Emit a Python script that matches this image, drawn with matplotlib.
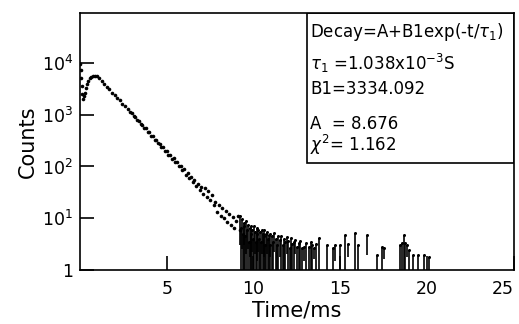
import matplotlib.pyplot as plt
from matplotlib.patches import Rectangle

# early part: excitation spike and rise to the maximum
rise_t = [0.02, 0.05, 0.08, 0.11, 0.14, 0.18, 0.22, 0.27, 0.33, 0.40,
          0.48, 0.57, 0.66, 0.76, 0.86, 0.96]
rise_counts = [9600, 7400, 5200, 3600, 2500, 2000, 2300, 2700, 3300, 4000,
               4600, 5100, 5400, 5650, 5750, 5700]

# exponential decay part
decay_t = [1.10, 1.25, 1.40, 1.55, 1.70, 1.85, 2.00, 2.15, 2.30, 2.45,
           2.60, 2.75, 2.90, 3.0, 3.1, 3.2, 3.3, 3.4, 3.5, 3.6,
           3.7, 3.8, 3.9, 4.0, 4.1, 4.2, 4.3, 4.4, 4.5, 4.6,
           4.7, 4.8, 4.9, 5.0, 5.1, 5.2, 5.3, 5.4, 5.5, 5.6,
           5.7, 5.8, 5.9, 6.0, 6.1, 6.2, 6.3, 6.4, 6.5, 6.6,
           6.7, 6.8, 6.9, 7.0, 7.1, 7.2, 7.3, 7.4, 7.5, 7.6,
           7.7, 7.8, 7.9, 8.0, 8.1, 8.2, 8.3, 8.4, 8.5, 8.6,
           8.7, 8.8, 8.9, 9.0, 9.1, 9.2]
decay_counts = [5250, 4600, 4000, 3500, 3150, 2700, 2450, 2100, 1900, 1620,
                1480, 1300, 1110, 1060, 930, 900, 780, 760, 660, 640,
                560, 545, 470, 460, 395, 390, 330, 330, 280, 275,
                240, 235, 200, 198, 168, 170, 142, 145, 120, 122,
                100, 104, 85, 88, 70, 76, 60, 64, 50, 55,
                42, 46, 35, 40, 30, 38, 26, 33, 22, 28,
                18, 21, 13, 18, 11, 16, 10, 14, 8.5, 12,
                7.5, 10.5, 6.5, 9, 11, 6]

# noisy tail: each channel drawn as a vertical stroke from low to high count
tail_t = [9.22, 9.28, 9.33, 9.38, 9.43, 9.48, 9.53, 9.58, 9.63, 9.68,
          9.73, 9.78, 9.83, 9.88, 9.93, 9.98, 10.03, 10.08, 10.13, 10.18,
          10.23, 10.28, 10.33, 10.38, 10.43, 10.48, 10.53, 10.58, 10.63, 10.68,
          10.73, 10.78, 10.83, 10.88, 10.93, 10.98, 11.05, 11.12, 11.2, 11.28,
          11.36, 11.44, 11.52, 11.6, 11.68, 11.76, 11.84, 11.92, 12.0, 12.08,
          12.16, 12.24, 12.32, 12.4, 12.5, 12.6, 12.7, 12.8, 12.9, 13.05,
          13.2, 13.3, 13.4, 13.5, 13.6, 13.75, 14.25, 14.6, 14.7, 15.0,
          15.3, 15.45, 15.86, 16.0, 16.55, 17.1, 17.4, 17.5, 18.45, 18.55,
          18.65, 18.75, 18.85, 18.95, 19.2, 19.5, 19.8, 20.1]
tail_hi = [11, 6.5, 9.5, 5, 8, 7, 4.5, 9, 6, 7.5,
           3.5, 6.5, 7, 5, 6, 4, 7, 5.5, 3.5, 6.5,
           5, 6, 4, 5.5, 3.5, 6, 5, 4.5, 6, 3,
           5, 5.5, 4, 4.8, 3, 5, 4.5, 3.5, 5.2, 4,
           3, 4.5, 3.8, 4.6, 3, 4, 3.5, 4.3, 3.6, 2.6,
           4.2, 3.2, 3.4, 3.8, 2.8, 3.3, 3.6, 2.6, 2.8, 3.3,
           2.8, 3.4, 3.0, 2.7, 3.2, 4.2, 3.0, 2.6, 3.0, 3.0,
           4.7, 3.2, 5.2, 3.0, 4.7, 1.9, 2.8, 2.6, 3.0, 3.3,
           4.7, 3.3, 3.0, 2.4, 1.9, 1.9, 1.9, 1.8]
tail_lo = [3, 1, 2.5, 1, 3, 1, 1, 2, 1, 2.5,
           1, 1.8, 1, 1, 2.2, 1, 1, 2, 1, 1.5,
           1, 2.2, 1, 1, 1, 2, 1, 1, 1.8, 1,
           1, 2, 1, 1, 1, 1.8, 1, 1, 2.2, 1,
           1, 1, 1.8, 1, 1, 1, 1, 2, 1, 1,
           1, 1, 1, 2, 1, 1, 1, 1, 1.5, 1,
           1, 1, 1, 1.6, 1, 1, 1, 1, 1.5, 1,
           1, 1.8, 1, 1, 1.9, 1, 1, 1.6, 1, 1,
           1, 1, 1.8, 1, 1, 1, 1, 1]

x_ticks = [5, 10, 15, 20, 25]
y_ticks = [1, 10, 100, 1000, 10000]
y_tick_labels = ['1', '$10^1$', '$10^2$', '$10^3$', '$10^4$']

fit_lines = ['Decay=A+B1exp(-t/$\\tau_1$)',
             '$\\tau_1$ =1.038x10$^{-3}$S',
             'B1=3334.092',
             'A  = 8.676',
             '$\\chi^2$= 1.162']
fit_y = [0.924, 0.805, 0.704, 0.568, 0.486]

fig = plt.figure(figsize=(5.19, 3.24), dpi=100)
ax = fig.add_axes([0.154, 0.167, 0.836, 0.793])

ax.plot(rise_t, rise_counts, 'o', ms=2.6, color='black', mec='none')
ax.plot(decay_t, decay_counts, 'o', ms=2.6, color='black', mec='none')
ax.vlines(tail_t, tail_lo, tail_hi, colors='black', linewidth=1.2)
ax.plot(tail_t, tail_hi, 'o', ms=2.2, color='black', mec='none')

ax.set_yscale('log')
ax.set_xlim(0, 25)
ax.set_ylim(1, 10 ** 4.97)
ax.set_xticks(x_ticks)
ax.set_xticklabels([str(v) for v in x_ticks])
ax.set_yticks(y_ticks)
ax.set_yticklabels(y_tick_labels)
ax.minorticks_off()
ax.tick_params(direction='in', length=10, width=1.2, labelsize=12.5)
ax.tick_params(axis='x', pad=7)
ax.tick_params(axis='y', pad=5)
ax.get_xticklabels()[-1].set_horizontalalignment('right')
for s in ax.spines.values():
    s.set_linewidth(1.2)

ax.set_xlabel('Time/ms', fontsize=15, labelpad=2)
ax.set_ylabel('Counts', fontsize=15, labelpad=3)

# fit result box in the upper right corner
ax.add_patch(Rectangle((0.523, 0.416), 0.477, 0.584, transform=ax.transAxes,
                       fill=False, linewidth=1.2, edgecolor='black'))
for txt, yy in zip(fit_lines, fit_y):
    ax.text(0.53, yy, txt, transform=ax.transAxes, fontsize=12,
            va='center', ha='left')

fig.savefig('out.png', dpi=100)
